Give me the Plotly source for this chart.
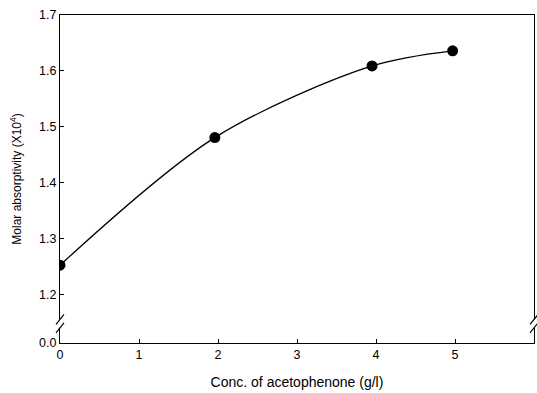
import plotly.graph_objects as go

# Molar absorptivity vs. acetophenone concentration
conc = [0.0, 1.96, 3.95, 4.97]
absorptivity = [1.253, 1.481, 1.609, 1.636]

x_ticks = [0, 1, 2, 3, 4, 5, 6]
y_ticks = [1.2, 1.3, 1.4, 1.5, 1.6, 1.7]
y_zero_pos = 1.114          # where the broken axis shows "0.0"
y_break = (1.141, 1.156)    # gap in the vertical axes

font = "Liberation Sans, Arial, sans-serif"

fig = go.Figure()
fig.add_trace(go.Scatter(
    x=conc, y=absorptivity,
    mode="lines+markers",
    line=dict(color="black", width=1.3, shape="spline", smoothing=0.9),
    marker=dict(color="black", size=11),
    showlegend=False,
))

fig.update_xaxes(
    range=[0, 6],
    tickvals=x_ticks,
    ticktext=[str(v) for v in x_ticks],
    ticks="inside", ticklen=4, tickcolor="black",
    showline=True, linecolor="black", linewidth=1, mirror=True,
    showgrid=False, zeroline=False,
    tickfont=dict(family=font, size=12.5, color="black"),
    title=dict(text="Conc. of acetophenone (g/l)",
               font=dict(family=font, size=14, color="black"), standoff=16),
)
fig.update_yaxes(
    range=[y_zero_pos, 1.7],
    tickvals=[y_zero_pos] + y_ticks,
    ticktext=["0.0"] + [f"{v:.1f}" for v in y_ticks],
    ticks="inside", ticklen=4, tickcolor="black",
    showline=True, linecolor="black", linewidth=1, mirror=True,
    showgrid=False, zeroline=False,
    tickfont=dict(family=font, size=12.5, color="black"),
    title=dict(text="Molar absorptivity (X10<sup>4</sup>)",
               font=dict(family=font, size=12, color="black"), standoff=14),
)

# Axis break: blank out a short piece of both vertical axes and add slashes
shapes = []
for xa in (0, 1):
    shapes.append(dict(
        type="rect", xref="paper", yref="y",
        xsizemode="pixel", xanchor=xa, x0=-3, x1=3,
        y0=y_break[0], y1=y_break[1],
        fillcolor="white", line=dict(width=0), layer="above",
    ))
    for yb in y_break:
        shapes.append(dict(
            type="line", xref="paper", yref="y",
            xsizemode="pixel", xanchor=xa, x0=-4, x1=4,
            ysizemode="pixel", yanchor=yb, y0=-5, y1=5,
            line=dict(color="black", width=1.2), layer="above",
        ))

fig.update_layout(
    width=537, height=393,
    margin=dict(l=60, r=3, t=15, b=50),
    paper_bgcolor="white", plot_bgcolor="white",
    shapes=shapes,
)

fig.write_html("out.html")
